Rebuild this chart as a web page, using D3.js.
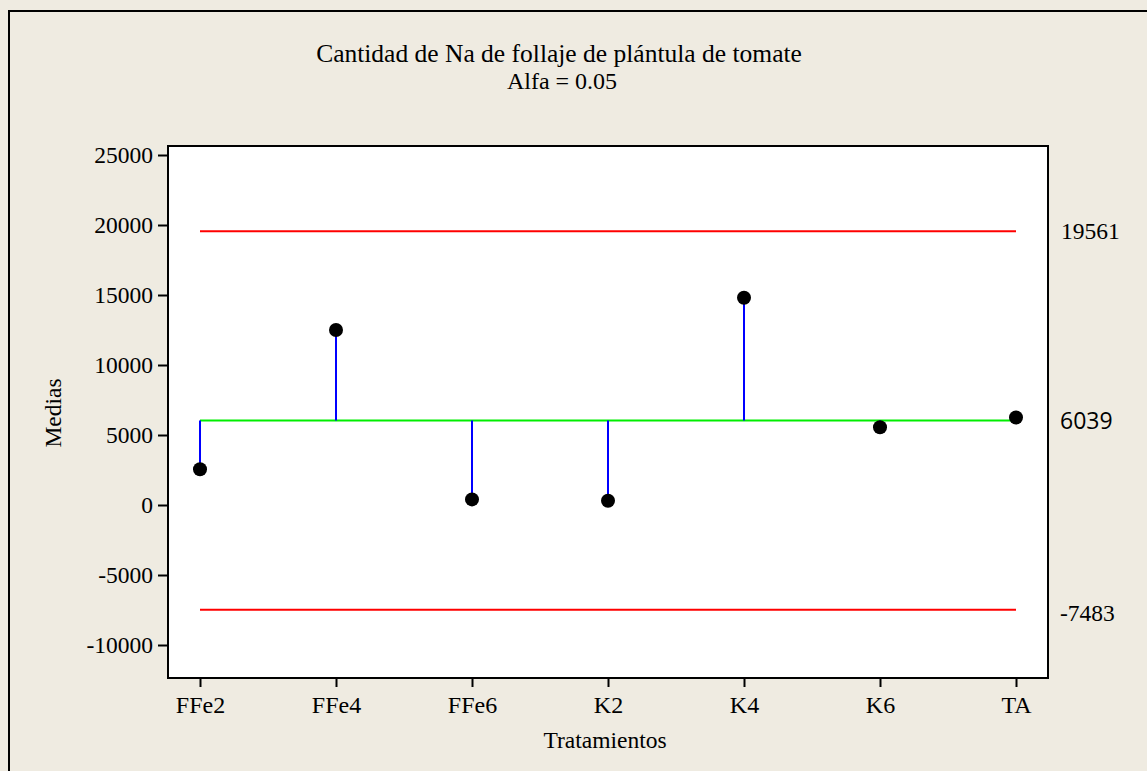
<!DOCTYPE html>
<html>
<head>
<meta charset="utf-8">
<script src="https://cdn.jsdelivr.net/npm/d3@7"></script>
<style>
  body { margin: 0; background: #efebe1; }
  svg { display: block; }
</style>
</head>
<body>
<div id="chart"></div>
<script>
var title = "Cantidad de Na de follaje de plántula de tomate";
var subtitle = "Alfa = 0.05";
var treatments = ["FFe2", "FFe4", "FFe6", "K2", "K4", "K6", "TA"];
var means = [2550, 12500, 400, 300, 14800, 5550, 6250];
var centre = 6039;
var upper = 19561;
var lower = -7483;
var yTicks = [-10000, -5000, 0, 5000, 10000, 15000, 20000, 25000];

var W = 1147, H = 771;
var plot = {left: 168, top: 146, right: 1048, bottom: 678};

var svg = d3.select("#chart")
  .append("svg")
  .attr("width", W)
  .attr("height", H);

svg.append("rect")
  .attr("width", W).attr("height", H)
  .attr("fill", "#efebe1");

// outer frame (only left and top edges are in view)
svg.append("path")
  .attr("d", "M9,780 V11 H1160")
  .attr("fill", "none")
  .attr("stroke", "#000")
  .attr("stroke-width", 2);

var x = d3.scalePoint()
  .domain(treatments)
  .range([200, 1016]);

var y = d3.scaleLinear()
  .domain([-12357, 25643])
  .range([plot.bottom, plot.top]);

svg.append("rect")
  .attr("x", plot.left).attr("y", plot.top)
  .attr("width", plot.right - plot.left)
  .attr("height", plot.bottom - plot.top)
  .attr("fill", "#fff")
  .attr("stroke", "#000")
  .attr("stroke-width", 2);

var serif = "'Liberation Serif', 'Times New Roman', serif";

var yAxis = svg.append("g")
  .attr("transform", "translate(" + plot.left + ",0)")
  .call(d3.axisLeft(y).tickValues(yTicks).tickSize(10).tickPadding(5)
    .tickFormat(function(d) { return String(d); }));
yAxis.select(".domain").remove();
yAxis.selectAll("line").attr("stroke", "#000").attr("stroke-width", 2);
yAxis.selectAll("text").attr("font-family", serif).attr("font-size", 23.5).attr("fill", "#000");

var xAxis = svg.append("g")
  .attr("transform", "translate(0," + plot.bottom + ")")
  .call(d3.axisBottom(x).tickSize(9).tickPadding(9));
xAxis.select(".domain").remove();
xAxis.selectAll("line").attr("stroke", "#000").attr("stroke-width", 2);
xAxis.selectAll("text").attr("font-family", serif).attr("font-size", 24).attr("fill", "#000");

// decision limits and centre line
[upper, lower].forEach(function(v) {
  svg.append("line")
    .attr("x1", x(treatments[0])).attr("x2", x(treatments[treatments.length - 1]))
    .attr("y1", y(v)).attr("y2", y(v))
    .attr("stroke", "#ff0000").attr("stroke-width", 2);
});

svg.append("line")
  .attr("x1", x(treatments[0])).attr("x2", x(treatments[treatments.length - 1]))
  .attr("y1", y(centre)).attr("y2", y(centre))
  .attr("stroke", "#00ee00").attr("stroke-width", 2);

svg.selectAll(".stem")
  .data(means)
  .enter()
  .append("line")
    .attr("class", "stem")
    .attr("x1", function(d, i) { return x(treatments[i]); })
    .attr("x2", function(d, i) { return x(treatments[i]); })
    .attr("y1", y(centre))
    .attr("y2", function(d) { return y(d); })
    .attr("stroke", "#0000ff")
    .attr("stroke-width", 2);

svg.selectAll(".dot")
  .data(means)
  .enter()
  .append("circle")
    .attr("class", "dot")
    .attr("cx", function(d, i) { return x(treatments[i]); })
    .attr("cy", function(d) { return y(d); })
    .attr("r", 7)
    .attr("fill", "#000");

// limit labels on the right
svg.append("text").attr("x", 1061).attr("y", y(upper) + 8)
  .attr("font-family", serif).attr("font-size", 23.5).text(upper);
svg.append("text").attr("x", 1060).attr("y", y(lower) + 11)
  .attr("font-family", serif).attr("font-size", 23.5).text(lower);
svg.append("text").attr("x", 1060).attr("y", y(centre) + 9)
  .attr("font-family", "'Open Sans', 'DejaVu Sans', sans-serif").attr("font-size", 23).text(centre);

// titles
svg.append("text").attr("x", 559).attr("y", 62).attr("text-anchor", "middle")
  .attr("font-family", serif).attr("font-size", 25.5).text(title);
svg.append("text").attr("x", 562).attr("y", 89).attr("text-anchor", "middle")
  .attr("font-family", serif).attr("font-size", 24).text(subtitle);

svg.append("text").attr("x", 605).attr("y", 748).attr("text-anchor", "middle")
  .attr("font-family", serif).attr("font-size", 23.5).text("Tratamientos");
svg.append("text")
  .attr("transform", "translate(61,413) rotate(-90)")
  .attr("text-anchor", "middle")
  .attr("font-family", serif).attr("font-size", 23.5).text("Medias");
</script>
</body>
</html>
